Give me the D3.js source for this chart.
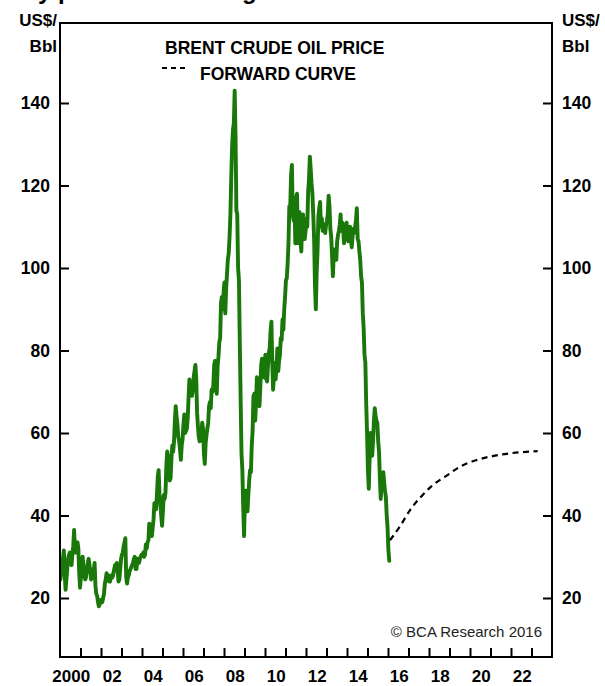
<!DOCTYPE html>
<html>
<head>
<meta charset="utf-8">
<script src="https://cdn.jsdelivr.net/npm/d3@7/dist/d3.min.js"></script>
<style>
  html, body { margin: 0; padding: 0; background: #fff; }
  svg { display: block; font-family: "Liberation Sans", Arial, sans-serif; }
</style>
</head>
<body>
<svg id="chart" width="605" height="686"></svg>
<script>
// Brent crude, US$/bbl, two readings per month (1st and 2nd half), Jan 2000 onward
const brentStart = 2000;
const brentPrice = [
  /* 2000 */ 24.5,26.5, 27.5,29.5, 31.5,26, 22,24.5, 27,29.5, 30.5,31, 29,28, 30.5,32.5, 36.5,32, 31,32.5, 33.5,32, 26,22.5,
  /* 2001 */ 25,28.5, 30,27.5, 25.5,24.5, 25,27, 28.5,29.5, 28,26.5, 24.5,25.5, 27,26.5, 28.5,23, 21,20.5, 19,18, 18.5,19.5,
  /* 2002 */ 19.5,19, 20,21, 23.5,24.5, 26,25, 25.5,24, 24,25, 25.5,25, 26,27, 28,27.5, 28.5,26.5, 24,24.5, 27,29.5,
  /* 2003 */ 30.5,31, 32.5,33.5, 34.5,25, 23.5,25, 25.5,26.5, 27,27.5, 28,28.5, 29.5,30, 27,27, 29.5,29.5, 28.5,29.5, 30,30.5,
  /* 2004 */ 30.5,31, 30,30.5, 33,32, 33.5,34, 38,37.5, 36,35, 37,39, 43,42, 41.5,45, 49.5,51, 45,43, 40,37.5,
  /* 2005 */ 41,45, 44,45.5, 52,55.5, 54,52, 48.5,49, 54,57, 55.5,58, 63,66.5, 64,62, 59,58, 56,53.5, 57,58.5,
  /* 2006 */ 62,64.5, 60,60.5, 61,63.5, 68.5,73, 70,70.5, 69,70.5, 73.5,75, 76.5,73, 65,61.5, 59,58, 59,60, 62.5,61,
  /* 2007 */ 55,52.5, 57.5,59.5, 61,62.5, 66.5,67.5, 66,70.5, 70,71.5, 76.5,77.5, 71,69.5, 76,78.5, 82,83, 91.5,93, 90,94,
  /* 2008 */ 96.5,89, 95,98.5, 102,103.5, 107.5,113, 122,129.5, 133.5,135, 143,132, 114,113, 100,97, 82,68, 55,51, 42,35,
  /* 2009 */ 44,46, 42.5,41, 45,48.5, 51,50.5, 57,60.5, 69,69.5, 63,67.5, 73.5,72, 68,66.5, 71,76.5, 78,76.5, 73.5,76,
  /* 2010 */ 79,73, 72.5,76.5, 79.5,80.5, 84.5,87, 77,70.5, 74.5,77, 73,76.5, 80.5,75, 77.5,79, 83,82.5, 87.5,85, 90,93,
  /* 2011 */ 97,97.5, 101,106, 115,114.5, 122.5,125, 113,111.5, 117,106, 117,118, 106,109, 113.5,107, 104,111, 113,108.5, 107,109,
  /* 2012 */ 112,110, 118.5,121.5, 127,124, 120.5,118, 113,107, 96,90, 99,104, 112.5,114.5, 116,110, 112,109, 109,110.5, 108.5,110.5,
  /* 2013 */ 111.5,113, 117.5,115, 109.5,107.5, 103,98, 103.5,104.5, 103,102, 106.5,108, 109,110.5, 113,109, 111,109.5, 106,108.5, 110,111,
  /* 2014 */ 107,106.5, 108.5,110, 107.5,105, 107.5,109.5, 108.5,110, 111.5,114.5, 107,106.5, 104,102, 98,96.5, 89,85.5, 79,77, 67,60,
  /* 2015 */ 51,46.5, 54,60, 56.5,54.5, 58,63, 66,64, 63,62.5, 58,55.5, 49,44, 48,48.5, 50.5,48, 46,44.5, 40,37,
  /* 2016 */ 31.5,29
];

// Futures strip from early 2016 out to 2023
const forwardYears  = [2016.1, 2016.6, 2017.1, 2017.6, 2018.1, 2018.9, 2019.5, 2020.3, 2021.1, 2022.0, 2023.3];
const forwardPrices = [34, 37.5, 41.5, 44.5, 47, 49.8, 51.8, 53.4, 54.4, 55.1, 55.6];

// Axis ticks and labels
const yTicks = [20, 40, 60, 80, 100, 120, 140];
const yearTicks = d3.range(2001, 2024);
const yearLabelYears = d3.range(2000, 2024, 2);
const yearLabelText = ["2000", "02", "04", "06", "08", "10", "12", "14", "16", "18", "20", "22"];

const legendLabels = ["BRENT CRUDE OIL PRICE", "FORWARD CURVE"];
const unitLines = ["US$/", "Bbl"];
const sourceNote = "\u00A9 BCA Research 2016";
const titleText = "Any path to balancing";

// ---- layout ----
const frame = { left: 60, right: 552, top: 23, bottom: 657 };
const green = "#1a770a";

const svg = d3.select("#chart");

const x = d3.scaleLinear().domain([2000, 2024]).range([frame.left, frame.right]);
const y = d3.scaleLinear().domain([20, 140]).range([598, 103]);

// headline sits above the page; only its descenders reach into view
svg.append("text")
  .attr("x", 6).attr("y", -0.8)
  .attr("font-size", 24).attr("font-weight", "bold")
  .text(titleText);

// clip for the series
svg.append("clipPath").attr("id", "plotClip")
  .append("rect")
  .attr("x", frame.left).attr("y", frame.top)
  .attr("width", frame.right - frame.left).attr("height", frame.bottom - frame.top);

// y axes (ticks point inward)
const yLeft = d3.axisLeft(y).tickValues(yTicks).tickSizeInner(-9).tickSizeOuter(0).tickPadding(10);
const yRight = d3.axisRight(y).tickValues(yTicks).tickSizeInner(-9).tickSizeOuter(0).tickPadding(10);

function styleAxis(g) {
  g.select(".domain").remove();
  g.selectAll(".tick line").attr("stroke", "#000").attr("stroke-width", 2);
  g.selectAll(".tick text")
    .attr("font-family", "Liberation Sans, Arial, sans-serif")
    .attr("font-size", 17.5).attr("font-weight", "bold").attr("fill", "#000");
}

svg.append("g").attr("transform", `translate(${frame.left},0)`).call(yLeft).call(styleAxis);
svg.append("g").attr("transform", `translate(${frame.right},0)`).call(yRight).call(styleAxis);

// x axis: yearly ticks, labels centred on each even year
const xAxis = d3.axisBottom(x).tickValues(yearTicks).tickSizeInner(-9).tickSizeOuter(0).tickFormat("");
svg.append("g").attr("transform", `translate(0,${frame.bottom})`).call(xAxis).call(styleAxis);

svg.append("g").selectAll("text")
  .data(yearLabelYears)
  .join("text")
  .attr("x", (d) => x(d + 0.55))
  .attr("y", 682)
  .attr("text-anchor", "middle")
  .attr("font-size", 17).attr("font-weight", "bold")
  .text((d, i) => yearLabelText[i]);

// unit labels on both sides
unitLines.forEach((t, i) => {
  svg.append("text").attr("x", 57).attr("y", 26 + i * 26)
    .attr("text-anchor", "end").attr("font-size", 17).attr("font-weight", "bold").text(t);
  svg.append("text").attr("x", 562).attr("y", 26 + i * 26)
    .attr("text-anchor", "start").attr("font-size", 17).attr("font-weight", "bold").text(t);
});

// price series
const priceData = brentPrice.map((v, i) => ({ t: brentStart + (i + 0.5) / 24, v }));
const priceLine = d3.line().x((d) => x(d.t)).y((d) => y(d.v));

svg.append("path")
  .datum(priceData)
  .attr("clip-path", "url(#plotClip)")
  .attr("fill", "none")
  .attr("stroke", green)
  .attr("stroke-width", 3.9)
  .attr("stroke-linejoin", "round")
  .attr("stroke-linecap", "round")
  .attr("d", priceLine);

// forward curve
const fwdData = forwardYears.map((t, i) => ({ t, v: forwardPrices[i] }));
svg.append("path")
  .datum(fwdData)
  .attr("fill", "none")
  .attr("stroke", "#000")
  .attr("stroke-width", 2.2)
  .attr("stroke-dasharray", "6,4.5")
  .attr("d", d3.line().curve(d3.curveMonotoneX).x((d) => x(d.t)).y((d) => y(d.v)));

// legend
svg.append("text").attr("x", 165).attr("y", 54)
  .attr("font-size", 17.5).attr("font-weight", "bold").text(legendLabels[0]);
svg.append("line")
  .attr("x1", 162).attr("x2", 188).attr("y1", 68).attr("y2", 68)
  .attr("stroke", "#000").attr("stroke-width", 2).attr("stroke-dasharray", "5,4");
svg.append("text").attr("x", 200).attr("y", 80)
  .attr("font-size", 17.5).attr("font-weight", "bold").text(legendLabels[1]);

// source note
svg.append("text").attr("x", 542).attr("y", 637)
  .attr("text-anchor", "end").attr("font-size", 15).attr("fill", "#222").text(sourceNote);

// frame
svg.append("rect")
  .attr("x", frame.left).attr("y", frame.top)
  .attr("width", frame.right - frame.left).attr("height", frame.bottom - frame.top)
  .attr("fill", "none").attr("stroke", "#000").attr("stroke-width", 2);
</script>
</body>
</html>
